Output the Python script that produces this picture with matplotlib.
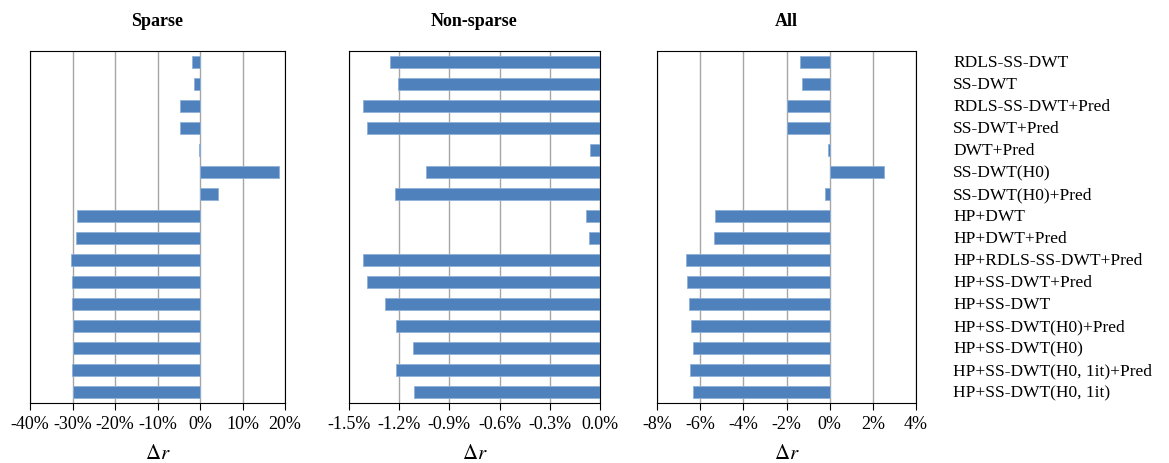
import numpy as np
import matplotlib
matplotlib.use('Agg')
import matplotlib.pyplot as plt
from matplotlib.ticker import FuncFormatter
from matplotlib.transforms import blended_transform_factory

plt.rcParams['font.family'] = ['Liberation Serif', 'DejaVu Serif']
plt.rcParams['mathtext.fontset'] = 'stix'

methods = ['RDLS-SS-DWT', 'SS-DWT', 'RDLS-SS-DWT+Pred', 'SS-DWT+Pred',
           'DWT+Pred', 'SS-DWT(H0)', 'SS-DWT(H0)+Pred', 'HP+DWT',
           'HP+DWT+Pred', 'HP+RDLS-SS-DWT+Pred', 'HP+SS-DWT+Pred',
           'HP+SS-DWT', 'HP+SS-DWT(H0)+Pred', 'HP+SS-DWT(H0)',
           'HP+SS-DWT(H0, 1it)+Pred', 'HP+SS-DWT(H0, 1it)']

# 相对码率变化 Δr (%)
sparse = [-2.0, -1.5, -4.6, -4.6, -0.2, 18.7, 4.3, -29.0,
          -29.1, -30.3, -30.2, -30.2, -30.0, -29.9, -30.2, -29.9]
non_sparse = [-1.255, -1.205, -1.416, -1.392, -0.062, -1.037, -1.223, -0.081,
              -0.066, -1.416, -1.394, -1.285, -1.221, -1.115, -1.221, -1.111]
all_seq = [-1.39, -1.28, -2.0, -1.97, -0.09, 2.53, -0.23, -5.32,
           -5.34, -6.65, -6.60, -6.51, -6.43, -6.31, -6.46, -6.31]

panels = [
    ('Sparse', sparse, np.arange(-40, 21, 10), lambda v, p: f'{v:.0f}%'),
    ('Non-sparse', non_sparse, np.linspace(-1.5, 0.0, 6), lambda v, p: f'{v:.1f}%'),
    ('All', all_seq, np.arange(-8, 5, 2), lambda v, p: f'{v:.0f}%'),
]
lefts = [30, 349, 657]
rights = [285, 600, 916]

W, H = 1169, 464
fig = plt.figure(figsize=(W / 100, H / 100), dpi=100)
y = np.arange(len(methods))
top, bottom = 52, 404

for (title, vals, ticks, fmt), l, r in zip(panels, lefts, rights):
    ax = fig.add_axes([l / W, 1 - bottom / H, (r - l) / W, (bottom - top) / H])
    ax.barh(y, vals, height=0.56, color='#4F81BD', edgecolor='#8fb0d8',
            linewidth=0.6, zorder=3)
    ax.set_xlim(ticks[0], ticks[-1])
    ax.set_ylim(len(methods) - 0.5, -0.5)
    ax.set_xticks(ticks)
    ax.xaxis.set_major_formatter(FuncFormatter(fmt))
    ax.set_yticks([])
    ax.grid(axis='x', color='#a6a6a6', linewidth=1.0, zorder=0)
    ax.tick_params(axis='x', direction='out', length=5, width=0.8,
                   labelsize=13, pad=4)
    for s in ax.spines.values():
        s.set_linewidth(0.8)
        s.set_color('black')
    ax.set_title(title, fontsize=13, fontweight='bold', pad=19)
    ax.set_xlabel(r'$\Delta r$', fontsize=15, labelpad=8)

# 方法名称列在最右侧
trans = blended_transform_factory(fig.transFigure, ax.transData)
for i, name in enumerate(methods):
    ax.text(953 / W, i, name, transform=trans,
            ha='left', va='center', fontsize=12.5)

fig.savefig('out.png', dpi=100)
